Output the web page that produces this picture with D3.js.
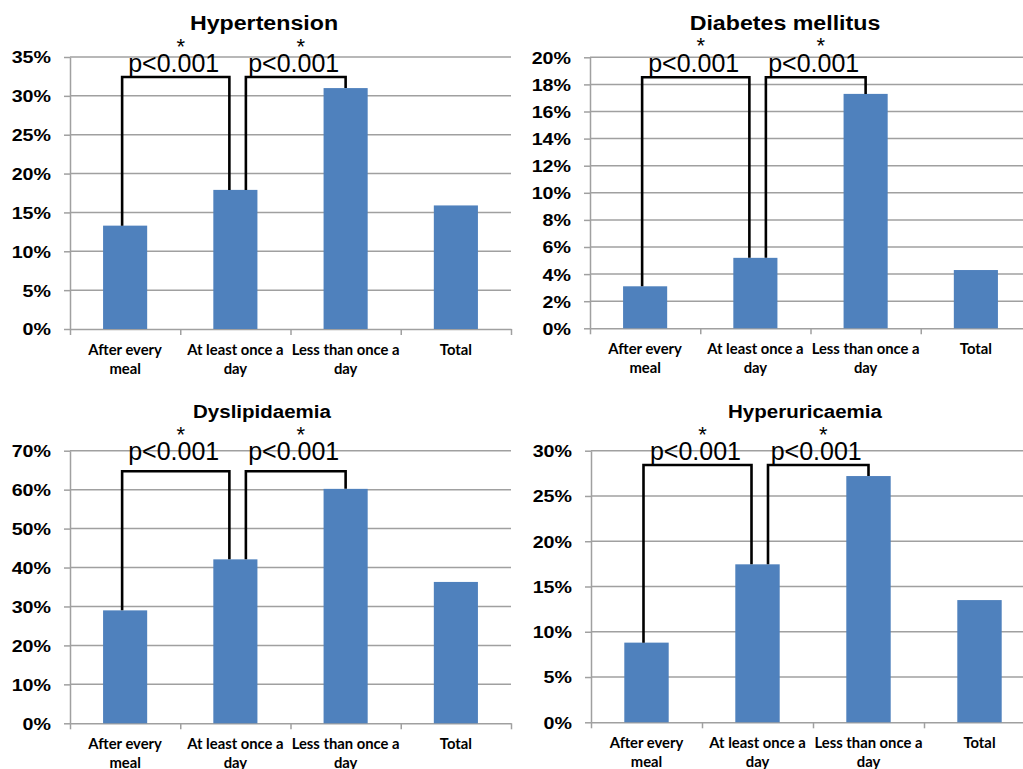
<!DOCTYPE html>
<html><head><meta charset="utf-8">
<script src="https://cdn.jsdelivr.net/npm/d3@7"></script>
<style>body{margin:0;background:#fff}svg{display:block}</style>
</head><body><svg id="c" width="1023" height="769"></svg>
<script>
// ---- data ----
const categories = [["After every","meal"],["At least once a","day"],["Less than once a","day"],["Total"]];
const titles = ["Hypertension","Diabetes mellitus","Dyslipidaemia","Hyperuricaemia"];
const hypertension   = [0.133, 0.179, 0.310, 0.159];
const diabetes       = [0.031, 0.052, 0.173, 0.043];
const dyslipidaemia  = [0.290, 0.421, 0.602, 0.363];
const hyperuricaemia = [0.088, 0.1745, 0.272, 0.135];
const yMaxes     = [0.35, 0.20, 0.70, 0.30];
const yTickSteps = [0.05, 0.02, 0.10, 0.05];
const comparisons = [[0,1],[1,2]];
const pLabel = "p<0.001";
const sigMark = "*";

// ---- layout / style ----
const seriesList = [hypertension, diabetes, dyslipidaemia, hyperuricaemia];
const panels = [
  {x0:70,  x1:511,  yTop:57,    yBot:329,   titleX:264, titleY:30,    tSize:20, tScale:1.16, bracketY:77},
  {x0:590, x1:1031, yTop:57.3,  yBot:328.3, titleX:785, titleY:29.5,  tSize:20, tScale:1.16, bracketY:77.3},
  {x0:70,  x1:511,  yTop:450.7, yBot:723.3, titleX:262, titleY:418.3, tSize:19, tScale:1.08, bracketY:471.3},
  {x0:591, x1:1035, yTop:450.7, yBot:722.3, titleX:805, titleY:418.3, tSize:19, tScale:1.08, bracketY:465}
];
const legOffsets = [[-3,-6],[10.5,0]];
const BAR = "#4F81BD", GRID = "#A0A0A0";

const svg = d3.select("#c");
svg.append("rect").attr("width",1023).attr("height",769).attr("fill","#fff");

panels.forEach((p, pi) => {
  const vals = seriesList[pi];
  const g = svg.append("g");
  const y = d3.scaleLinear().domain([0, yMaxes[pi]]).range([p.yBot, p.yTop]);
  const x = d3.scaleBand().domain(d3.range(categories.length)).range([p.x0, p.x1])
              .paddingInner(0.6).paddingOuter(0.3);
  const xb = d3.scaleLinear().domain([0, categories.length]).range([p.x0, p.x1]);
  const tickVals = d3.range(0, yMaxes[pi] + 1e-9, yTickSteps[pi]);

  // gridlines
  g.append("g").selectAll("line").data(tickVals.filter(v => v > 0)).join("line")
    .attr("x1", p.x0).attr("x2", p.x1).attr("y1", d => y(d)).attr("y2", d => y(d))
    .attr("stroke", GRID).attr("stroke-width", 1.5);

  // y axis
  const ya = g.append("g").attr("transform", `translate(${p.x0},0)`)
    .call(d3.axisLeft(y).tickValues(tickVals).tickFormat(d3.format(".0%"))
          .tickSize(6).tickSizeOuter(0).tickPadding(10));
  ya.select(".domain").attr("stroke", GRID).attr("stroke-width", 1.5);
  ya.selectAll(".tick line").attr("stroke", GRID).attr("stroke-width", 1.5);
  ya.selectAll(".tick text").attr("font-family", "'Liberation Sans', Arial, sans-serif")
    .attr("font-weight", "bold").attr("font-size", 16.5).attr("fill", "#000")
    .attr("dy", "0.36em").attr("transform", "scale(1.19,1)");

  // x axis (category boundaries)
  const xa = g.append("g").attr("transform", `translate(0,${p.yBot})`)
    .call(d3.axisBottom(xb).ticks(categories.length).tickFormat("").tickSize(6).tickSizeOuter(0));
  xa.select(".domain").attr("stroke", GRID).attr("stroke-width", 1.5);
  xa.selectAll(".tick line").attr("stroke", GRID).attr("stroke-width", 1.5);

  // bars
  g.append("g").selectAll("rect").data(vals).join("rect")
    .attr("x", (d, i) => x(i)).attr("width", x.bandwidth())
    .attr("y", d => y(d)).attr("height", d => y(0) - y(d))
    .attr("fill", BAR);

  // category labels
  const cl = g.append("g").selectAll("text").data(categories).join("text")
    .attr("x", (d, i) => x(i) + x.bandwidth() / 2).attr("y", p.yBot + 26)
    .attr("text-anchor", "middle").attr("font-family", "Lato, sans-serif")
    .attr("font-weight", "bold").attr("font-size", 14.8).attr("fill", "#000");
  cl.selectAll("tspan").data(d => d).join("tspan")
    .attr("x", function() { return d3.select(this.parentNode).attr("x"); })
    .attr("dy", (d, i) => i === 0 ? 0 : 18.5).text(d => d);

  // title
  g.append("text").attr("transform", `translate(${p.titleX},${p.titleY}) scale(${p.tScale},1)`)
    .attr("text-anchor", "middle").attr("font-family", "'Liberation Sans', Arial, sans-serif")
    .attr("font-weight", "bold").attr("font-size", p.tSize).attr("fill", "#000").text(titles[pi]);

  // significance brackets
  comparisons.forEach(([a, b], ci) => {
    const xa1 = x(a) + x.bandwidth() / 2 + legOffsets[ci][0];
    const xb1 = x(b) + x.bandwidth() / 2 + legOffsets[ci][1];
    const by = p.bracketY;
    g.append("path")
      .attr("d", `M${xa1},${y(vals[a])}V${by}H${xb1}V${y(vals[b])}`)
      .attr("fill", "none").attr("stroke", "#000").attr("stroke-width", 2.6);
    const mid = (xa1 + xb1) / 2;
    g.append("text").attr("x", mid - 2).attr("y", p.titleY + 42)
      .attr("text-anchor", "middle").attr("font-family", "'Liberation Sans', Arial, sans-serif")
      .attr("font-size", 25).attr("fill", "#000").text(pLabel);
    g.append("text").attr("x", mid + 5).attr("y", p.titleY + 23.5)
      .attr("text-anchor", "middle").attr("font-family", "'Liberation Sans', Arial, sans-serif")
      .attr("font-size", 22).attr("fill", "#000").text(sigMark);
  });
});
</script></body></html>
